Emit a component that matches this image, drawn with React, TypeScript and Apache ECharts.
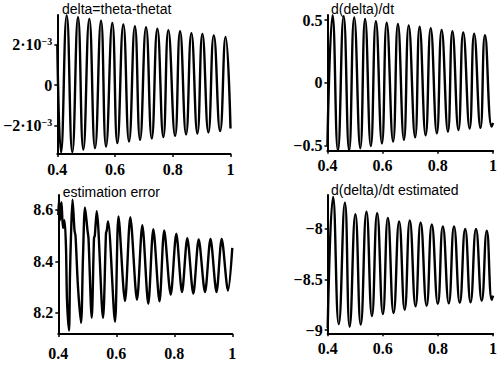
import React, { useEffect, useRef } from "react";
import * as echarts from "echarts";

// shared x ticks
const xTicks = [0.4, 0.6, 0.8, 1];

// Panel 1: delta = theta - thetat (alternating troughs/peaks)
const deltaT = [0.4, 0.4128, 0.4326, 0.452, 0.4718, 0.4901, 0.5109, 0.5307, 0.5515, 0.5688, 0.5906, 0.608, 0.6288, 0.6485, 0.6688, 0.6867, 0.7074, 0.7272, 0.7466, 0.7674, 0.7847, 0.808, 0.8253, 0.8461, 0.8645, 0.8853, 0.9026, 0.9234, 0.9421, 0.964, 0.983, 1.0];
const deltaV = [0.002, -0.00335, 0.00346, -0.00333, 0.00337, -0.0032, 0.00329, -0.00313, 0.0032, -0.00305, 0.00308, -0.00288, 0.00301, -0.0028, 0.00292, -0.00272, 0.00287, -0.00265, 0.0028, -0.00258, 0.00273, -0.00252, 0.00267, -0.00245, 0.00258, -0.0024, 0.00254, -0.00235, 0.00247, -0.00228, 0.00239, -0.00215];
const deltaTicks = [-0.002, 0, 0.002];

// Panel 2: d(delta)/dt
const ddT = [0.4, 0.4187, 0.4381, 0.4589, 0.4787, 0.4971, 0.5192, 0.5366, 0.5574, 0.5757, 0.5976, 0.6149, 0.6381, 0.6555, 0.6773, 0.6946, 0.7179, 0.7341, 0.756, 0.7743, 0.7965, 0.8139, 0.8367, 0.853, 0.8749, 0.8922, 0.9154, 0.9317, 0.9546, 0.9709, 0.995, 1.0];
const ddV = [-0.5, 0.539, -0.54, 0.53, -0.54, 0.52, -0.522, 0.508, -0.505, 0.49, -0.485, 0.478, -0.469, 0.468, -0.456, 0.457, -0.435, 0.446, -0.42, 0.435, -0.403, 0.42, -0.39, 0.41, -0.378, 0.4, -0.365, 0.39, -0.36, 0.378, -0.35, -0.32];
const ddTicks = [-0.5, 0, 0.5];

// Panel 3: estimation error
const errT = [0.4, 0.4024, 0.4059, 0.411, 0.4162, 0.4214, 0.4266, 0.43, 0.4369, 0.4403, 0.4438, 0.449, 0.4559, 0.4593, 0.4679, 0.4783, 0.4852, 0.4921, 0.5007, 0.5041, 0.5152, 0.5231, 0.5259, 0.5324, 0.5541, 0.5645, 0.5672, 0.5714, 0.5955, 0.6076, 0.63, 0.6483, 0.6714, 0.6897, 0.7103, 0.7276, 0.749, 0.7652, 0.7876, 0.8069, 0.8266, 0.8448, 0.8655, 0.8841, 0.9059, 0.9248, 0.9455, 0.9634, 0.9852, 1.0];
const errV = [8.58, 8.64, 8.56, 8.63, 8.53, 8.56, 8.45, 8.25, 8.13, 8.35, 8.5, 8.64, 8.52, 8.5, 8.3, 8.16, 8.42, 8.61, 8.52, 8.49, 8.18, 8.49, 8.5, 8.595, 8.18, 8.51, 8.52, 8.555, 8.165, 8.575, 8.245, 8.572, 8.25, 8.54, 8.235, 8.525, 8.244, 8.52, 8.27, 8.507, 8.28, 8.49, 8.274, 8.485, 8.28, 8.487, 8.28, 8.487, 8.286, 8.452];
const errTicks = [8.2, 8.4, 8.6];

// Panel 4: d(delta)/dt estimated
const estT = [0.4, 0.4194, 0.4402, 0.4624, 0.4797, 0.5005, 0.5199, 0.5407, 0.5605, 0.5795, 0.6003, 0.6184, 0.6392, 0.6593, 0.6794, 0.6981, 0.7189, 0.7373, 0.7591, 0.7778, 0.7997, 0.818, 0.8395, 0.8586, 0.8794, 0.899, 0.9186, 0.9383, 0.9591, 0.9775, 0.9955, 1.0];
const estV = [-8.98, -7.69, -8.94, -7.745, -8.965, -7.86, -8.945, -7.835, -8.86, -7.85, -8.84, -7.895, -8.83, -7.93, -8.8, -7.92, -8.765, -7.94, -8.76, -7.96, -8.74, -7.98, -8.735, -7.98, -8.73, -8.005, -8.725, -8.005, -8.71, -8.02, -8.7, -8.66];
const estTicks = [-9, -8.5, -8];

const titles = ["delta=theta-thetat", "d(delta)/dt", "estimation error", "d(delta)/dt estimated"];

const SERIF = "Liberation Serif";
const SANS = "Liberation Sans";

const pair = (t: number[], v: number[]) => t.map((x, i) => [x, v[i]]);
const minus = (s: string) => s.replace("-", "\u2212");

export default function App() {
  const ref = useRef<HTMLDivElement>(null);
  useEffect(() => {
    if (!ref.current) return;
    const chart = echarts.init(ref.current, null, { renderer: "svg" });

    const grids = [
      { left: 57.3, top: 15, width: 173.2, height: 139 },
      { left: 327.4, top: 15, width: 173, height: 135.7 },
      { left: 58.3, top: 195, width: 174, height: 139 },
      { left: 327.7, top: 195, width: 173, height: 138.3 },
    ];
    const xMargins = [7, 7, 11, 7];
    const yRanges = [
      [-0.00342, 0.00348],
      [-0.542, 0.54],
      [8.117, 8.658],
      [-9.03, -7.67],
    ];
    const yTicks = [deltaTicks, ddTicks, errTicks, estTicks];
    const seriesData = [pair(deltaT, deltaV), pair(ddT, ddV), pair(errT, errV), pair(estT, estV)];
    const smoothVals = [0.5, 0.5, 0.3, 0.5];

    const labelBase = {
      fontFamily: SERIF,
      fontSize: 16,
      fontWeight: "bold",
      color: "#000",
    };

    const xAxis = grids.map((_, i) => ({
      type: "value",
      gridIndex: i,
      min: 0.4,
      max: 1,
      axisLine: { onZero: false, lineStyle: { color: "#000", width: 2 } },
      axisTick: { customValues: xTicks, length: 3, lineStyle: { color: "#000", width: 1.5 } },
      axisLabel: {
        ...labelBase,
        customValues: xTicks,
        formatter: (v: number) => String(+v.toFixed(1)),
        margin: xMargins[i],
      },
      splitLine: { show: false },
    }));

    const yAxis = grids.map((_, i) => ({
      type: "value",
      gridIndex: i,
      min: yRanges[i][0],
      max: yRanges[i][1],
      axisLine: { onZero: false, lineStyle: { color: "#000", width: 2 } },
      axisTick: { customValues: yTicks[i], length: 3, lineStyle: { color: "#000", width: 1.5 } },
      axisLabel: {
        ...labelBase,
        customValues: yTicks[i],
        formatter:
          i === 0
            ? (v: number) => {
                if (Math.abs(v) < 1e-9) return "0";
                const m = Math.round(v / 0.001);
                return "{b|" + minus(String(m)) + "·10}{s|\u22123}";
              }
            : (v: number) => minus(String(+v.toFixed(2))),
        margin: 5,
        rich: {
          b: { fontFamily: SERIF, fontSize: 16, fontWeight: "bold", color: "#000" },
          s: { fontFamily: SERIF, fontSize: 10, fontWeight: "bold", color: "#000", verticalAlign: "top" },
        },
      },
      splitLine: { show: false },
    }));

    const series = seriesData.map((d, i) => ({
      type: "line",
      xAxisIndex: i,
      yAxisIndex: i,
      data: d,
      showSymbol: false,
      smooth: smoothVals[i],
      lineStyle: { color: "#000", width: 2.4 },
      clip: true,
    }));

    const titlePos = [
      [62, 9.4],
      [331, 9.1],
      [62.7, 192.4],
      [331, 190.1],
    ];
    const graphic = titles.map((t, i) => ({
      type: "text",
      x: titlePos[i][0],
      y: titlePos[i][1],
      style: { text: t, fontSize: 14, fontFamily: SANS, fill: "#000", verticalAlign: "middle" },
    }));

    chart.setOption({
      animation: false,
      backgroundColor: "#fff",
      grid: grids,
      xAxis,
      yAxis,
      series,
      graphic,
    });
    return () => chart.dispose();
  }, []);
  return (
    <div
      ref={ref}
      style={{ position: "absolute", left: 0, top: 0, width: 500, height: 365 }}
    />
  );
}
